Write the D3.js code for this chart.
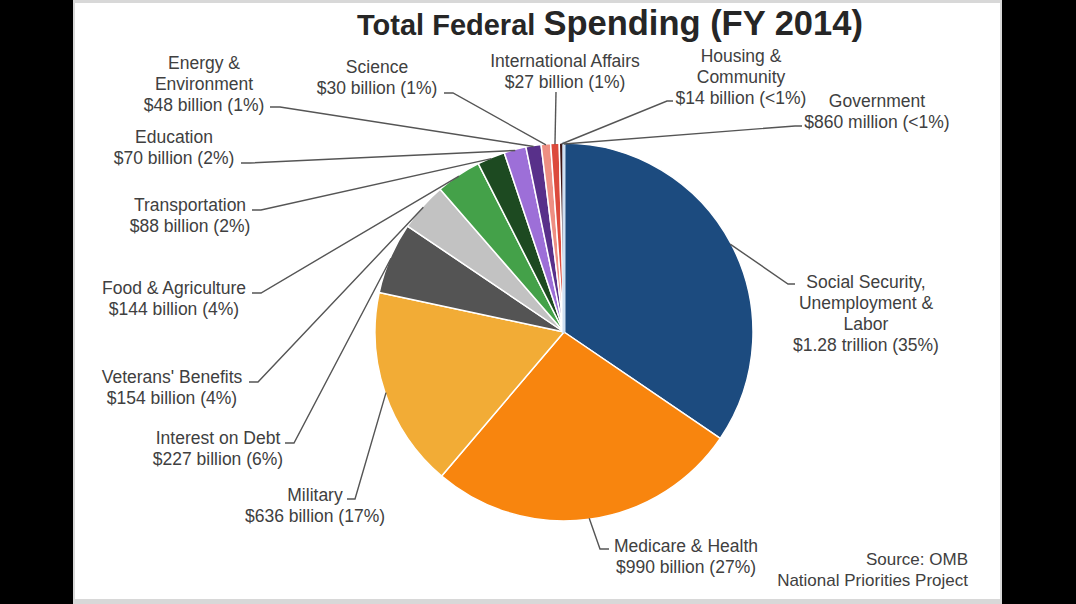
<!DOCTYPE html>
<html>
<head>
<meta charset="utf-8">
<script src="https://cdn.jsdelivr.net/npm/d3@7/dist/d3.min.js"></script>
<style>
  html, body { margin: 0; padding: 0; background: #000; }
  svg { display: block; }
</style>
</head>
<body>
<svg id="chart" width="1076" height="604"></svg>
<script>
// ---- data ----
const categories = ["Social Security, Unemployment & Labor", "Medicare & Health", "Military", "Interest on Debt",
  "Veterans' Benefits", "Food & Agriculture", "Transportation", "Education", "Energy & Environment",
  "Science", "International Affairs", "Housing & Community", "Government"];
const categoryLines = [["Social Security,", "Unemployment &", "Labor"], ["Medicare & Health"], ["Military"],
  ["Interest on Debt"], ["Veterans' Benefits"], ["Food & Agriculture"], ["Transportation"], ["Education"],
  ["Energy &", "Environment"], ["Science"], ["International Affairs"], ["Housing &", "Community"], ["Government"]];
const values = [1280, 990, 636, 227, 154, 144, 88, 70, 48, 30, 27, 14, 0.86]; // $ billions
const amountLabels = ["$1.28 trillion (35%)", "$990 billion (27%)", "$636 billion (17%)", "$227 billion (6%)",
  "$154 billion (4%)", "$144 billion (4%)", "$88 billion (2%)", "$70 billion (2%)", "$48 billion (1%)",
  "$30 billion (1%)", "$27 billion (1%)", "$14 billion (<1%)", "$860 million (<1%)"];
const titleParts = ["Total Federal ", "Spending (FY 2014)"];
const sourceLines = ["Source: OMB", "National Priorities Project"];

// ---- styles / layout ----
const colors = ["#1c4b7f", "#f8850e", "#f2ac36", "#545454", "#c2c2c2", "#44a149", "#1d4a21",
  "#9d6fd8", "#58308a", "#ee8f83", "#dc4a3c", "#3d1414", "#cfe0f2"];
// label layout: text centre x, first-line centre y, leader start point and knee x
const labelLayout = [
  { cx: 866, y0: 282, sx: 795, sy: 284, kx: 788 },
  { cx: 686, y0: 546, sx: 609, sy: 549, kx: 600 },
  { cx: 315, y0: 495, sx: 347, sy: 499, kx: 355 },
  { cx: 218, y0: 438, sx: 285, sy: 443, kx: 294 },
  { cx: 172, y0: 377, sx: 249, sy: 382, kx: 258 },
  { cx: 174, y0: 288, sx: 252, sy: 293, kx: 261 },
  { cx: 190, y0: 205, sx: 252, sy: 210, kx: 261 },
  { cx: 174, y0: 137, sx: 241, sy: 163, kx: 250 },
  { cx: 204, y0: 63,  sx: 270, sy: 107, kx: 280 },
  { cx: 377, y0: 67,  sx: 444, sy: 93,  kx: 453 },
  { cx: 565, y0: 61,  sx: 556, sy: 92,  kx: 556 },
  { cx: 741, y0: 56,  sx: 673, sy: 101, kx: 667 },
  { cx: 877, y0: 101, sx: 802, sy: 126, kx: 795 }
];
const lineGap = 21;
const cx = 564, cy = 332, R = 189;
const font = "'Liberation Sans', Arial, sans-serif";

const svg = d3.select("#chart");

// frame
svg.append("rect").attr("x", 0).attr("y", 0).attr("width", 1076).attr("height", 604).attr("fill", "#000");
svg.append("rect").attr("x", 73).attr("y", 0).attr("width", 929).attr("height", 604).attr("fill", "#d8d8d8");
svg.append("rect").attr("x", 75).attr("y", 3).attr("width", 925).attr("height", 596).attr("fill", "#fff");

// title
const title = svg.append("text").attr("x", 357).attr("y", 35)
  .attr("font-family", font).attr("font-weight", "bold").attr("fill", "#262626");
title.append("tspan").attr("font-size", 29).text(titleParts[0]);
title.append("tspan").attr("font-size", 34.5).text(titleParts[1]);

// pie
const data = categories.map((c, i) => ({ name: c, value: values[i], i }));
const pie = d3.pie().value(d => d.value).sort(null);
const arcs = pie(data);
const arc = d3.arc().innerRadius(0).outerRadius(R);
const g = svg.append("g").attr("transform", `translate(${cx},${cy})`);
g.selectAll("path").data(arcs).join("path")
  .attr("d", arc)
  .attr("fill", d => colors[d.data.i])
  .attr("stroke", d => d.data.i === 12 ? colors[12] : "#fff")
  .attr("stroke-width", d => d.data.i === 12 ? 3 : 1.5)
  .attr("stroke-linejoin", "round");

// leader lines
const edgeArc = d3.arc().innerRadius(R - 1).outerRadius(R - 1);
svg.append("g").selectAll("path").data(arcs).join("path")
  .attr("d", d => {
    const L = labelLayout[d.data.i];
    const [px, py] = edgeArc.centroid(d);
    return d3.line()([[L.sx, L.sy], [L.kx, L.sy], [cx + px, cy + py]]);
  })
  .attr("fill", "none")
  .attr("stroke", "#555")
  .attr("stroke-width", 1.4);

// labels
const labels = svg.append("g").attr("font-family", font).attr("font-size", 17.5).attr("fill", "#404040")
  .attr("text-anchor", "middle");
arcs.forEach(d => {
  const i = d.data.i;
  const L = labelLayout[i];
  const lines = categoryLines[i].concat([amountLabels[i]]);
  const t = labels.append("text");
  lines.forEach((s, k) => {
    t.append("tspan").attr("x", L.cx).attr("y", L.y0 + k * lineGap).attr("dy", "0.35em").text(s);
  });
});

// source
const src = svg.append("text").attr("font-family", font).attr("font-size", 17).attr("fill", "#404040")
  .attr("text-anchor", "end");
sourceLines.forEach((s, k) => {
  src.append("tspan").attr("x", 968).attr("y", 559 + k * 21.5).attr("dy", "0.35em").text(s);
});
</script>
</body>
</html>
